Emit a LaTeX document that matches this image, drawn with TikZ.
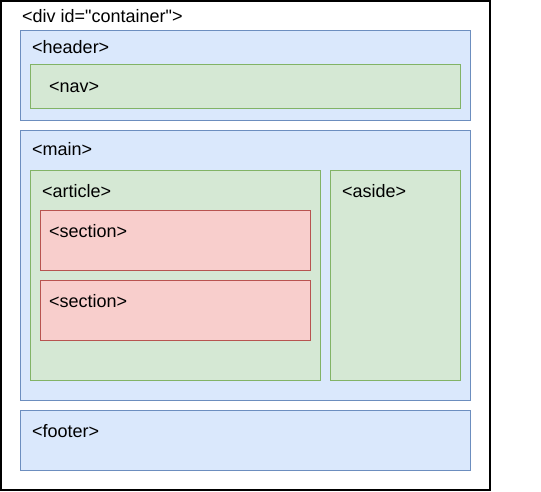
\documentclass[tikz,border=0pt]{standalone}
\usepackage{fontspec}
\newfontfamily\lbfont{Liberation Sans}
\definecolor{bfill}{HTML}{DAE8FC}
\definecolor{bline}{HTML}{6C8EBF}
\definecolor{gfill}{HTML}{D5E8D4}
\definecolor{gline}{HTML}{82B366}
\definecolor{rfill}{HTML}{F8CECC}
\definecolor{rline}{HTML}{B85450}
\tikzset{
  boxblue/.style={draw=bline,fill=bfill,line width=1pt},
  boxgreen/.style={draw=gline,fill=gfill,line width=1pt},
  boxred/.style={draw=rline,fill=rfill,line width=1pt},
  boxouter/.style={draw=black,fill=white,line width=1.3pt},
  lbl/.style={anchor=base west,inner sep=0pt,font=\lbfont\fontsize{18}{21}\selectfont}
}
\begin{document}
\begin{tikzpicture}[x=1pt,y=-1pt]
\useasboundingbox (0,0) rectangle (541,491);
\draw[boxouter] (1,1) rectangle (490,490);
\node[lbl] (tcont) at (22,22.5) {<div id="container">};
% header
\draw[boxblue] (20,30) rectangle (470,120);
\node[lbl] (thead) at (32,53) {<header>};
\draw[boxgreen] (30,64) rectangle (460,108);
\node[lbl] (tnav) at (49,92.5) {<nav>};
% main
\draw[boxblue] (20,130) rectangle (470,400);
\node[lbl] (tmain) at (32,155) {<main>};
\draw[boxgreen] (30,170) rectangle (320,380);
\node[lbl] (tart) at (42,197.5) {<article>};
\draw[boxgreen] (330,170) rectangle (460,380);
\node[lbl] (taside) at (342,197.5) {<aside>};
\draw[boxred] (40,210) rectangle (310,270);
\node[lbl] (tsec1) at (49,237.5) {<section>};
\draw[boxred] (40,280) rectangle (310,340);
\node[lbl] (tsec2) at (49,307.5) {<section>};
% footer
\draw[boxblue] (20,410) rectangle (470,470);
\node[lbl] (tfoot) at (32,437.5) {<footer>};
\end{tikzpicture}
\end{document}
